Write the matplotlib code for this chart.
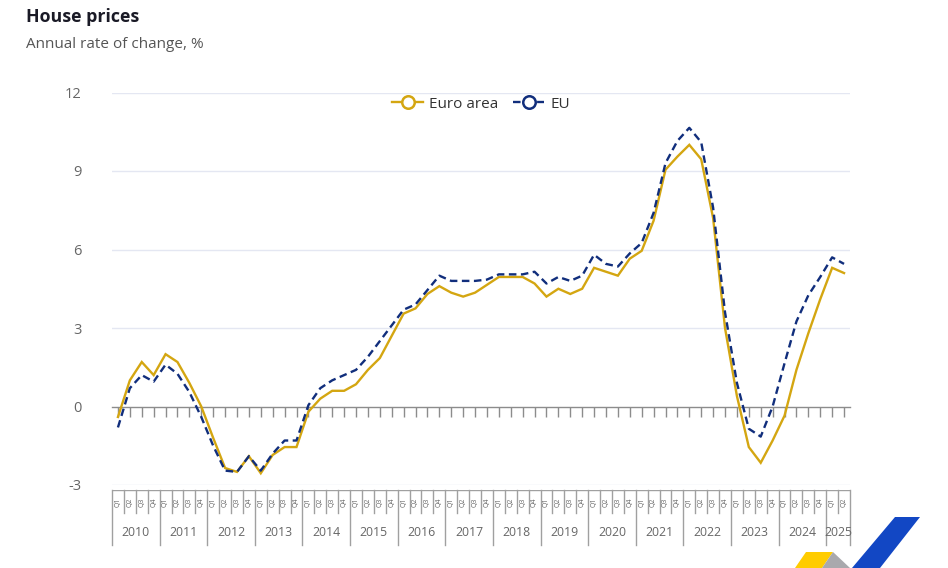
import matplotlib
matplotlib.use("Agg")
import matplotlib.pyplot as plt
from matplotlib.lines import Line2D
from matplotlib.patches import Polygon

plt.rcParams['font.family'] = ['Open Sans', 'DejaVu Sans']

################################################################################
# DATA  (annual rate of change, %, quarterly 2010Q1 .. 2025Q2)
years = [str(y) for y in range(2010, 2026)]
quarters = ["Q1", "Q2", "Q3", "Q4"]

euro_area = [-0.4, 1.0, 1.7, 1.2, 2.0, 1.7, 0.9, 0.0,
             -1.2, -2.35, -2.5, -1.9, -2.55, -1.85, -1.55, -1.55,
             -0.2, 0.3, 0.6, 0.6, 0.85, 1.4, 1.85, 2.7,
             3.55, 3.75, 4.3, 4.6, 4.35, 4.2, 4.35, 4.65,
             4.95, 4.95, 4.95, 4.7, 4.2, 4.5, 4.3, 4.5,
             5.3, 5.15, 5.0, 5.65, 5.95, 7.1, 9.05, 9.55,
             10.0, 9.45, 7.2, 3.0, 0.4, -1.55, -2.15, -1.3,
             -0.35, 1.4, 2.8, 4.1, 5.3, 5.1]

eu = [-0.8, 0.7, 1.2, 0.95, 1.6, 1.25, 0.55, -0.4,
      -1.5, -2.45, -2.5, -1.9, -2.45, -1.8, -1.3, -1.3,
      0.05, 0.7, 1.0, 1.2, 1.4, 1.9, 2.5, 3.1,
      3.7, 3.9, 4.45, 5.0, 4.8, 4.8, 4.8, 4.85,
      5.05, 5.05, 5.05, 5.15, 4.7, 4.95, 4.8, 5.0,
      5.8, 5.45, 5.35, 5.85, 6.25, 7.4, 9.3, 10.15,
      10.65, 10.1, 7.6, 3.6, 0.9, -0.85, -1.15, 0.0,
      1.65, 3.25, 4.25, 4.95, 5.7, 5.45]

y_ticks = [-3, 0, 3, 6, 9, 12]

################################################################################
# STYLE
GOLD = "#D4A611"
NAVY = "#112E7C"
GRID = "#E4E7F2"
AXIS = "#8C8C8C"
TEXT = "#666666"

W, H = 948, 568
fig = plt.figure(figsize=(W / 100, H / 100), dpi=100)

# background layer in pixel units (titles + logo)
bg = fig.add_axes([0, 0, 1, 1])
bg.set_xlim(0, W)
bg.set_ylim(H, 0)
bg.axis("off")

bg.text(26, 17, "House prices", fontsize=12.8, fontweight="bold",
        color="#1A1A26", va="center", ha="left")
bg.text(26, 45, "Annual rate of change, %", fontsize=11, color="#555555",
        va="center", ha="left")

# logo (bottom right)
bg.add_patch(Polygon([(806, 552), (833, 552), (822, 568), (795, 568)],
                     closed=True, color="#FFCC00", lw=0))
bg.add_patch(Polygon([(833, 552), (850, 568), (822, 568)],
                     closed=True, color="#A9A9AD", lw=0))
bg.add_patch(Polygon([(895, 517), (920, 517), (880, 568), (852, 568)],
                     closed=True, color="#1247C4", lw=0))

################################################################################
# MAIN AXES
n = len(euro_area)
x = list(range(n))

left, right = 112, 850
top, bottom = 92.5, 485
ax = fig.add_axes([left / W, (H - bottom) / H, (right - left) / W, (bottom - top) / H])
ax.set_xlim(-0.5, n - 0.5)
ax.set_ylim(-3, 12)

for v in y_ticks:
    if v != 0:
        ax.axhline(v, color=GRID, lw=1.0, zorder=0)

ax.plot(x, euro_area, color=GOLD, lw=1.7, solid_joinstyle="miter", zorder=3)
ax.plot(x, eu, color=NAVY, lw=1.7, dashes=(3.2, 1.9), zorder=4)

for s in ["top", "right", "left"]:
    ax.spines[s].set_visible(False)
ax.spines["bottom"].set_position(("data", 0))
ax.spines["bottom"].set_color(AXIS)
ax.spines["bottom"].set_linewidth(1.0)
ax.spines["bottom"].set_zorder(2)
ax.set_xticks(x)
ax.tick_params(axis="x", direction="out", length=7, width=1.0, color=AXIS,
               labelbottom=False)
ax.set_yticks(y_ticks)
ax.set_yticklabels([str(v) for v in y_ticks])
ax.tick_params(axis="y", length=0, pad=22, labelsize=10.5, labelcolor=TEXT)
ax.patch.set_alpha(0)

handles = [
    Line2D([], [], color=GOLD, lw=1.7, marker="o", markersize=9,
           markerfacecolor="white", markeredgewidth=1.8),
    Line2D([], [], color=NAVY, lw=1.7, dashes=(3.2, 1.9), marker="o",
           markersize=9, markerfacecolor="white", markeredgewidth=1.8),
]
ax.legend(handles, ["Euro area", "EU"], loc="center",
          bbox_to_anchor=(0.5, (bottom - 104) / (bottom - top)),
          ncol=2, frameon=False, fontsize=11, handlelength=2.0,
          handletextpad=0.4, columnspacing=1.0, labelcolor="#333333")

################################################################################
# CATEGORY TABLE (quarters / years)
t_top, t_bot = 490, 546
tab = fig.add_axes([left / W, (H - t_bot) / H, (right - left) / W, (t_bot - t_top) / H])
tab.set_xlim(-0.5, n - 0.5)
tab.set_ylim(t_bot - t_top, 0)
tab.axis("off")

TLINE = "#A0A0A0"
tab.axhline(0, color=TLINE, lw=1.0)
for i in range(n + 1):
    b = i - 0.5
    if i % 4 == 0 or i == n:
        tab.plot([b, b], [0, t_bot - t_top - 1], color=TLINE, lw=1.0, clip_on=False)
    else:
        tab.plot([b, b], [0, 23], color=TLINE, lw=1.0, clip_on=False)

for i in range(n):
    tab.text(i, 12, quarters[i % 4], rotation=90, fontsize=5, color=TEXT,
             ha="center", va="center")

for k, yr in enumerate(years):
    first = 4 * k
    last = min(first + 3, n - 1)
    tab.text((first + last) / 2, 42, yr, fontsize=8.8, color=TEXT,
             ha="center", va="center")

fig.savefig("out.png", dpi=100)
